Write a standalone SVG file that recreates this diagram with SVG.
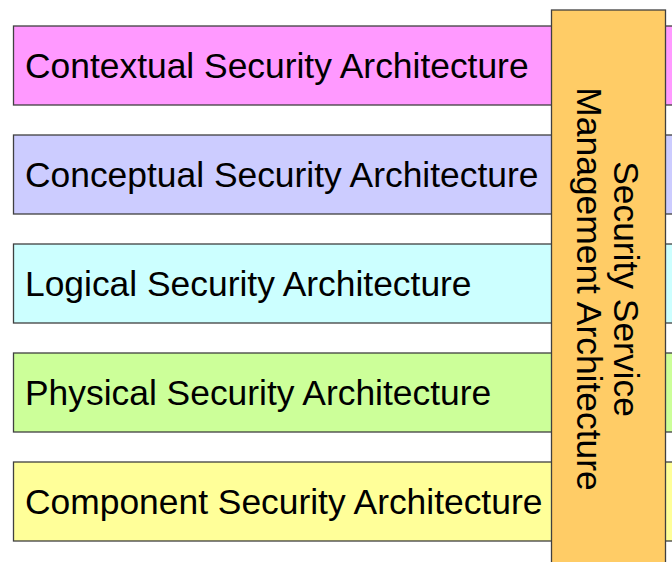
<svg xmlns="http://www.w3.org/2000/svg" width="672" height="562" viewBox="0 0 672 562">
<style>
.layer{stroke:#404040;stroke-width:1.3}
.t{font-family:"Liberation Sans",Arial,sans-serif;font-size:35.4px;fill:#000}
</style>
<rect width="672" height="562" fill="#fff"/>
<g id="contextual"><rect class="layer" x="13.5" y="26" width="700" height="79" fill="#FF99FF"/><text class="t" x="25" y="78">Contextual Security Architecture</text></g>
<g id="conceptual"><rect class="layer" x="13.5" y="135" width="700" height="79" fill="#CCCCFF"/><text class="t" x="25" y="187">Conceptual Security Architecture</text></g>
<g id="logical"><rect class="layer" x="13.5" y="244" width="700" height="79" fill="#CCFFFF"/><text class="t" x="25" y="296">Logical Security Architecture</text></g>
<g id="physical"><rect class="layer" x="13.5" y="353" width="700" height="79" fill="#CCFF99"/><text class="t" x="25" y="405">Physical Security Architecture</text></g>
<g id="component"><rect class="layer" x="13.5" y="462" width="700" height="79" fill="#FFFF99"/><text class="t" x="25" y="514">Component Security Architecture</text></g>
<g id="management"><rect class="layer" x="551.5" y="10" width="114" height="600" fill="#FFCC66"/>
<g transform="translate(608,289) rotate(90)"><text class="t" text-anchor="middle" x="0" y="-6">Security Service</text><text class="t" text-anchor="middle" x="0" y="31">Management Architecture</text></g></g>
<g id="connectors"></g>
</svg>
